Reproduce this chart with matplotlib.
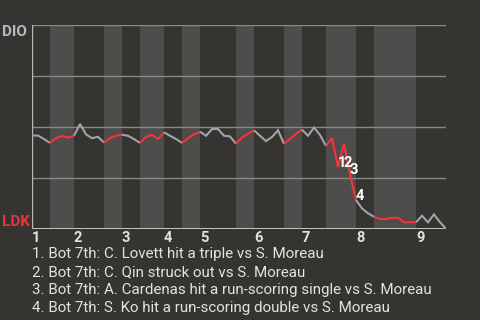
import matplotlib
matplotlib.use("Agg")
import matplotlib.pyplot as plt
import numpy as np

plt.rcParams['font.family'] = ['Roboto', 'DejaVu Sans']

# ---- data ----
away_team = "DIO"
home_team = "LDK"
# plate appearances per half inning (top 1, bot 1, top 2, ...)
pa_per_half = [3, 4, 5, 3, 3, 4, 3, 3, 6, 3, 5, 3, 4, 5, 3, 7, 5]
# away-team (DIO) win probability after each plate appearance
win_prob = [0.458, 0.458, 0.441, 0.422, 0.445, 0.456, 0.448, 0.457, 0.515, 0.464,
            0.445, 0.452, 0.424, 0.445, 0.457, 0.462, 0.457, 0.441, 0.422, 0.451,
            0.461, 0.441, 0.474, 0.457, 0.441, 0.422, 0.445, 0.464, 0.477, 0.457,
            0.490, 0.490, 0.457, 0.454, 0.418, 0.448, 0.467, 0.484, 0.457, 0.431,
            0.451, 0.484, 0.418, 0.441, 0.467, 0.487, 0.457, 0.497, 0.461, 0.407,
            0.445, 0.304, 0.417, 0.270, 0.142, 0.101, 0.077, 0.060, 0.049, 0.049,
            0.055, 0.055, 0.033, 0.033, 0.033, 0.065, 0.033, 0.072, 0.033, 0.002]
inning_labels = ["1", "2", "3", "4", "5", "6", "7", "8", "9"]
event_index = [51, 52, 53, 54]
event_marks = ["1", "2", "3", "4"]
event_texts = [
    "1. Bot 7th: C. Lovett hit a triple vs S. Moreau",
    "2. Bot 7th: C. Qin struck out vs S. Moreau",
    "3. Bot 7th: A. Cardenas hit a run-scoring single vs S. Moreau",
    "4. Bot 7th: S. Ko hit a run-scoring double vs S. Moreau",
]

# ---- style ----
BG = "#363430"
BAND = "#4e4d4b"
GRID = "#8a8987"
AWAY_C = "#a0a4a8"
HOME_C = "#f5333a"
TXT = "#e2e2e2"

W, H = 480, 320
fig = plt.figure(figsize=(W / 100, H / 100), dpi=100)
fig.patch.set_facecolor(BG)
ax = fig.add_axes([32 / W, 91 / H, 414 / W, 204 / H])
ax.set_facecolor(BG)

bounds = np.concatenate([[0], np.cumsum(pa_per_half)])
n = len(win_prob) - 1
ax.set_xlim(0, n)
ax.set_ylim(0, 1)

# bands for bottom halves
for i in range(len(pa_per_half)):
    if i % 2 == 1:
        ax.axvspan(bounds[i], bounds[i + 1], color=BAND, lw=0, zorder=0)

# grid lines
for yv in [0.25, 0.5, 0.75, 1.0]:
    ax.axhline(yv, color=GRID, lw=1.0, zorder=1)
ax.axhline(0, color="#c4c4c2", lw=1.4, zorder=3)
ax.axvline(0, color="#b8b8b6", lw=1.0, zorder=3)

# win probability line
x = np.arange(len(win_prob))
wp = np.array(win_prob)
for i in range(len(pa_per_half)):
    a, b = bounds[i], bounds[i + 1]
    c = HOME_C if i % 2 == 1 else AWAY_C
    ax.plot(x[a:b + 1], wp[a:b + 1], color=c, lw=1.5, zorder=4,
            solid_joinstyle='miter', solid_capstyle='butt')

# event markers
for idx, m in zip(event_index, event_marks):
    yv = min(wp[idx - 1], wp[idx])
    ax.text(idx, yv, m, color="white", fontsize=10.5, fontweight="bold",
            ha="left", va="baseline", zorder=5)

for s in ax.spines.values():
    s.set_visible(False)
ax.set_xticks([])
ax.set_yticks([])

# inning labels
for k, lab in enumerate(inning_labels):
    ax.annotate(lab, xy=(bounds[2 * k], 0), xycoords="data",
                xytext=(0, -12.5), textcoords="offset pixels",
                color=TXT, fontsize=10.5, fontweight="bold",
                ha="left", va="baseline")

# team labels
fig.text(2 / W, (H - 36) / H, away_team, color="#b2bac2", fontsize=11,
         fontweight="bold", ha="left", va="baseline")
fig.text(2 / W, (H - 226) / H, home_team, color="#ee3238", fontsize=11,
         fontweight="bold", ha="left", va="baseline")

# event descriptions
for j, t in enumerate(event_texts):
    fig.text(32 / W, (H - 258 - 18 * j) / H, t, color=TXT, fontsize=10.9,
             ha="left", va="baseline")

fig.savefig("out.png", dpi=100, facecolor=BG)
